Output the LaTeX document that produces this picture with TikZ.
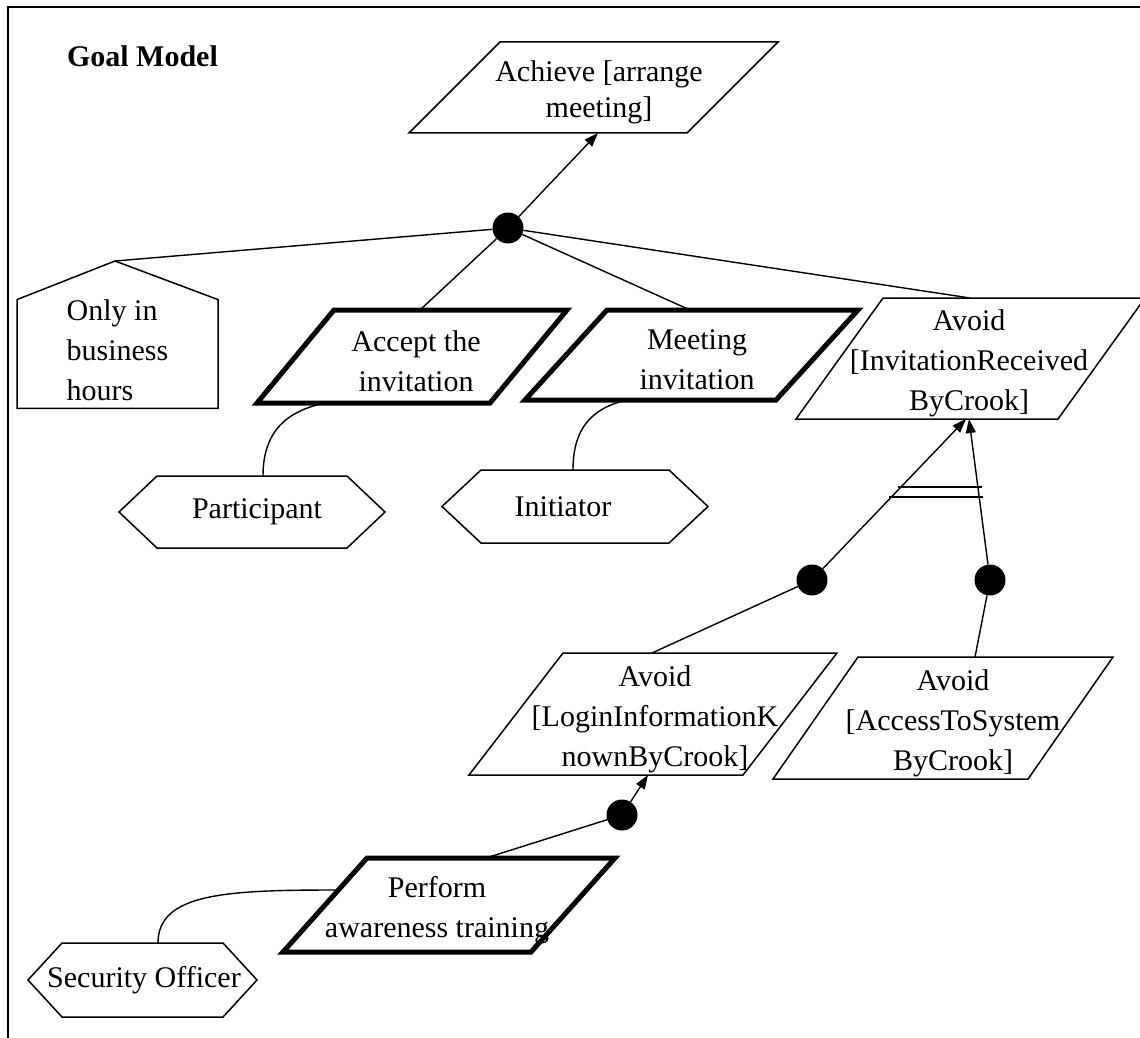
\documentclass[tikz,border=0pt]{standalone}
\usepackage{fontspec}
\setmainfont{Liberation Serif}
\usetikzlibrary{arrows.meta}

\tikzset{
  txt/.style={font=\fontsize{30}{40}\selectfont,align=center,inner sep=0pt,outer sep=0pt},
  frame/.style={inner sep=0pt,outer sep=0pt},
  goal/.style={line width=1.5pt},
  hard/.style={line width=5pt},
  link/.style={line width=1.4pt},
  arr/.style={link,-{Triangle[length=14pt,width=10pt]}},
  andnode/.style={circle,fill=black,minimum size=31pt,inner sep=0pt},
}

\newcommand{\goalbox}[8][]{%
  \node[frame,minimum width=#4,minimum height=#5] (#2) at (#3) {};
  \node[txt,yshift=-5] (#2-t) at (#2) {#8};
  \draw[goal,#1] ([xshift={(#6)+(#7)}]#2.north west) -- ([xshift={#7}]#2.north east)
    -- ([xshift={(#7)-(#6)}]#2.south east) -- ([xshift={#7}]#2.south west) -- cycle;}

\newcommand{\rolebox}[7]{%
  \node[txt,minimum width=#3,minimum height=#4] (#1) at (#2) {#7};
  \draw[goal] ([xshift={(#5)+(#6)}]#1.north west) -- ([xshift={(#5)-(#6)}]#1.north east)
    -- ([xshift={#5}]#1.east) -- ([xshift={(#5)-(#6)}]#1.south east)
    -- ([xshift={(#5)+(#6)}]#1.south west) -- ([xshift={#5}]#1.west) -- cycle;}

\begin{document}
\begin{tikzpicture}[x=1pt,y=-1pt]
\useasboundingbox (0,0) rectangle (1140,1038);
\draw[line width=2pt] (8,1038) -- (8,7) -- (1140,7);
\node[txt,font=\bfseries\fontsize{30}{40}\selectfont,anchor=base west] (title) at (67,67) {Goal Model};

\goalbox{achieve}{599,87.5}{369}{91}{91}{-5.5}{Achieve [arrange\\[-4pt]meeting]}
\goalbox[hard]{accept}{416,356.5}{310}{93}{77}{-4}{Accept the\\invitation}
\goalbox[hard]{meeting}{697,355}{333}{90}{82}{-5.5}{Meeting\\invitation}
\goalbox{crook}{969,358.5}{349}{121}{87}{1.5}{Avoid\\{[}InvitationReceived\\ByCrook{]}}
\goalbox{login}{655,714}{368}{122}{94}{-2}{Avoid\\{[}LoginInformationK\\nownByCrook{]}}
\goalbox{access}{953,718}{340}{122}{85}{-10}{Avoid\\{[}AccessToSystem\\ByCrook{]}}
\goalbox[hard]{perform}{437,905}{332}{94}{84}{12}{Perform\\awareness training}

\node[txt,align=left,minimum width=201,minimum height=104,text depth=8pt] (hours) at (117.5,354) {Only in\\business\\hours};
\coordinate (roof) at (115,261);
\draw[goal] (roof) -- (hours.north west) -- (hours.south west) -- (hours.south east) -- (hours.north east) -- cycle;

\rolebox{participant}{257,512}{266}{72}{-5}{38}{Participant}
\rolebox{initiator}{563,506.5}{266}{73}{12}{39}{Initiator}
\rolebox{officer}{144,980}{229}{74}{-1.5}{34}{Security Officer}

\node[andnode] (and1) at (508,228) {};
\node[andnode] (and2) at (812,580) {};
\node[andnode] (and3) at (990,580) {};
\node[andnode] (and4) at (622,815) {};

\draw[arr] (and1) -- ([xshift=-1]achieve.south);
\draw[link] (and1) -- (roof);
\draw[link] (and1) -- ([xshift=4]accept.north);
\draw[link] (and1) -- ([xshift=-7]meeting.north);
\draw[link] (and1) -- ([xshift=1]crook.north);

\draw[link] ([xshift=6]participant.north) .. controls +(0,-45) and +(-38,8) .. ([xshift=-91]accept.south);
\draw[link] ([xshift=10]initiator.north) .. controls +(0,-42) and +(-35,8) .. ([xshift=-70]meeting.south);
\draw[link] ([xshift=14]officer.north) .. controls +(0,-50) and +(-110,0) .. ([xshift=66,yshift=15]perform.west);

\draw[arr] (and2) -- ([xshift=-3]crook.south);
\draw[arr] (and3) -- (crook.south);
\draw[link] (and2) -- ([xshift=-3]login.north);
\draw[link] (and3) -- ([xshift=22]access.north);
\draw[arr] (and4) -- ([xshift=-7]login.south);
\draw[link] (and4) -- ([xshift=49]perform.north);

\draw[link] (898,487) -- (982,487);
\draw[link] (889,497) -- (983,497);
\end{tikzpicture}
\end{document}
